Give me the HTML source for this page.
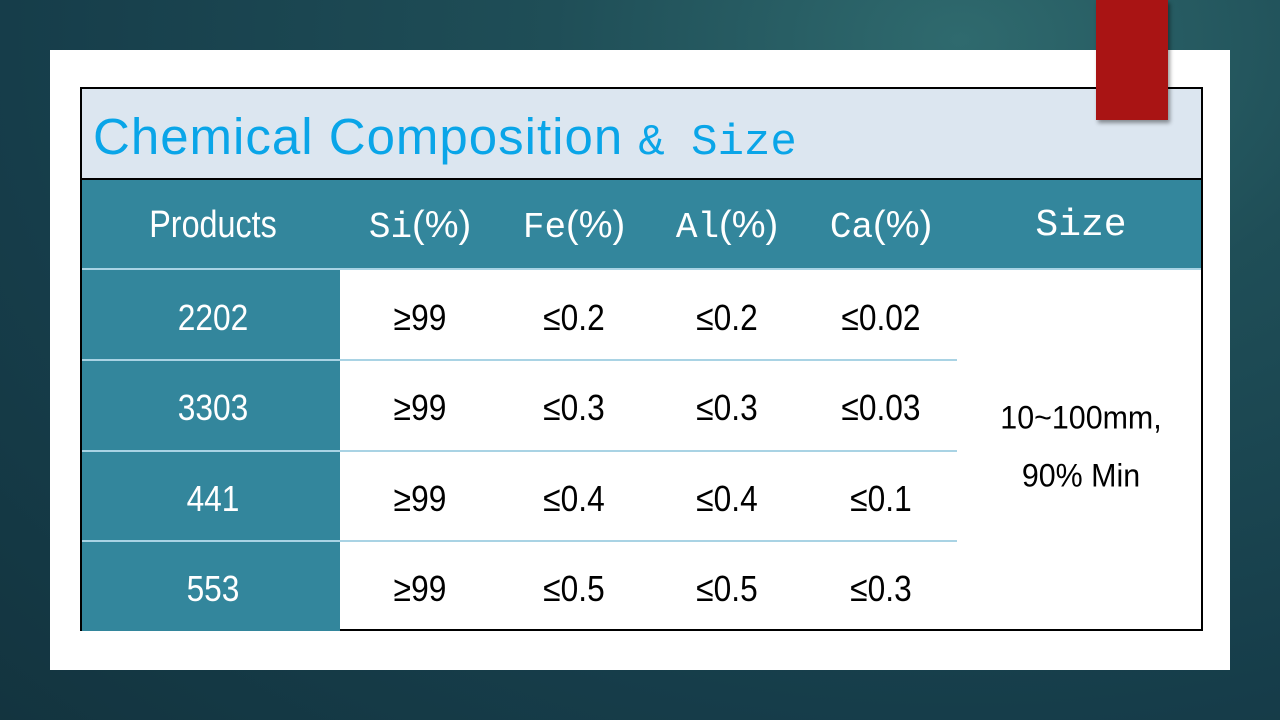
<!DOCTYPE html>
<html><head><meta charset="utf-8"><style>
*{margin:0;padding:0;box-sizing:border-box}
body{width:1280px;height:720px;overflow:hidden;position:relative;font-family:"Liberation Sans",sans-serif;
background:radial-gradient(ellipse at 960px 40px,#2f6a6e 0%,#1f4e57 30%,#163d4a 70%,#13343f 100%);}
.panel{position:absolute;left:50px;top:50px;width:1180px;height:620px;background:#fff}
.tbl{position:absolute;left:80px;top:87px;width:1123px;height:544px;border:2px solid #000;background:#fff}
.title{position:absolute;left:0;top:0;width:100%;height:91px;background:#dce6f0;border-bottom:2px solid #000}
.title span{position:absolute;left:11px;top:18px;font-size:51px;color:#0aa5e8;letter-spacing:1px;white-space:nowrap}
.m{font-family:"Liberation Mono",monospace}
.hdr{position:absolute;left:0;top:91px;width:100%;height:90px;background:#33869c;border-bottom:2px solid #a9d3e4}
.c{position:absolute;transform:translateX(-50%);white-space:nowrap;font-size:38px}
.hdr .c{color:#fff;top:24px}
.first{position:absolute;left:0;top:181px;width:258px;height:361px;background:#33869c}
.r{position:absolute;left:0;height:2px;background:#a9d3e4}
.v{position:absolute;transform:translate(-50%,-50%) scaleX(.88);white-space:nowrap;font-size:36px;color:#000}
.w{color:#fff}
</style></head><body>
<div class="panel"></div>
<div class="tbl">
 <div class="title"><span>Chemical Composition <span class="m" style="position:static;font-size:44px;letter-spacing:0">&amp; Size</span></span></div>
 <div class="hdr">
  <div class="c" style="left:131px;transform:translateX(-50%) scaleX(.85)">Products</div>
  <div class="c" style="left:338px"><span class="m" style="font-size:36px">Si</span>(%)</div>
  <div class="c" style="left:492px"><span class="m" style="font-size:36px">Fe</span>(%)</div>
  <div class="c" style="left:645px"><span class="m" style="font-size:36px">Al</span>(%)</div>
  <div class="c" style="left:799px"><span class="m" style="font-size:36px">Ca</span>(%)</div>
  <div class="c m" style="left:999px;font-size:38px">Size</div>
 </div>
 <div class="first"></div>
 <div class="r" style="top:270px;width:875px"></div>
 <div class="r" style="top:361px;width:875px"></div>
 <div class="r" style="top:451px;width:875px"></div>
 <div class="v w" style="left:131px;top:229px">2202</div>
 <div class="v w" style="left:131px;top:319px">3303</div>
 <div class="v w" style="left:131px;top:410px">441</div>
 <div class="v w" style="left:131px;top:500px">553</div>
 <div class="v" style="left:338px;top:229px">≥99</div>
 <div class="v" style="left:338px;top:319px">≥99</div>
 <div class="v" style="left:338px;top:410px">≥99</div>
 <div class="v" style="left:338px;top:500px">≥99</div>
 <div class="v" style="left:492px;top:229px">≤0.2</div>
 <div class="v" style="left:492px;top:319px">≤0.3</div>
 <div class="v" style="left:492px;top:410px">≤0.4</div>
 <div class="v" style="left:492px;top:500px">≤0.5</div>
 <div class="v" style="left:645px;top:229px">≤0.2</div>
 <div class="v" style="left:645px;top:319px">≤0.3</div>
 <div class="v" style="left:645px;top:410px">≤0.4</div>
 <div class="v" style="left:645px;top:500px">≤0.5</div>
 <div class="v" style="left:799px;top:229px">≤0.02</div>
 <div class="v" style="left:799px;top:319px">≤0.03</div>
 <div class="v" style="left:799px;top:410px">≤0.1</div>
 <div class="v" style="left:799px;top:500px">≤0.3</div>
 <div class="v" style="left:999px;top:329px;font-size:32px;transform:translate(-50%,-50%) scaleX(.95)">10~100mm,</div>
 <div class="v" style="left:999px;top:387px;font-size:32px;transform:translate(-50%,-50%) scaleX(.95)">90% Min</div>
</div>
<div style="position:absolute;left:1096px;top:0;width:72px;height:120px;background:#a91414;box-shadow:2px 3px 4px rgba(0,0,0,.4)"></div>
</body></html>
